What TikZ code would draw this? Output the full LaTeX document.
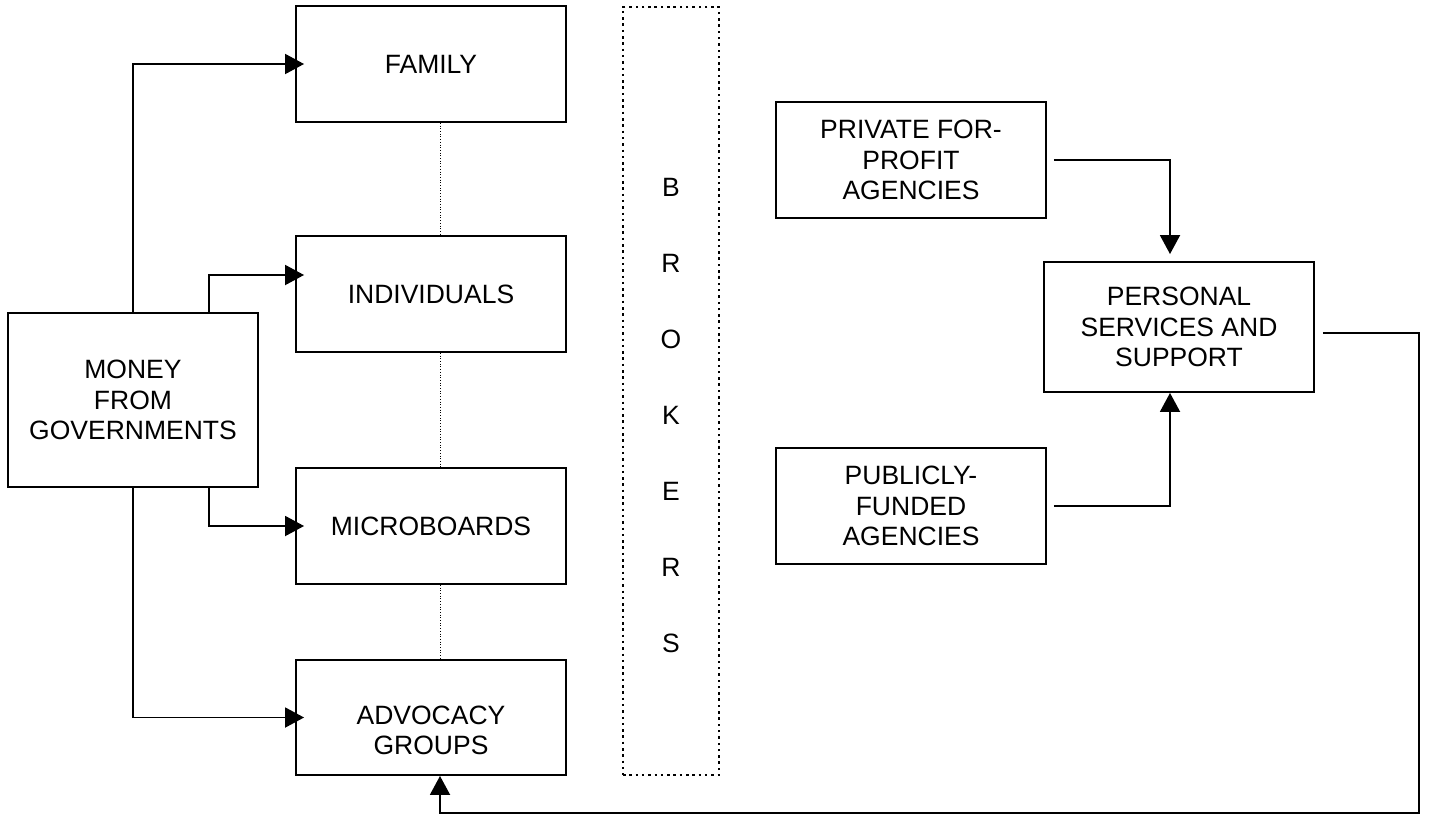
\documentclass[tikz,border=0pt]{standalone}
\usepackage{fontspec}
\setmainfont{Liberation Sans}
\usetikzlibrary{arrows.meta,calc}
\begin{document}
\begin{tikzpicture}[x=1pt,y=-1pt,
  box/.style={draw, line width=1.9pt, align=center, inner sep=0pt,
    font=\fontsize{26.5}{30.5}\selectfont},
  boxtext/.style={align=center, inner sep=0pt, font=\fontsize{26.5}{30.5}\selectfont},
  arr/.style={line width=1.9pt, -{Triangle[length=19pt,width=20pt]}},
  thindot/.style={line width=1pt, dash pattern=on 1pt off 1.7pt},
  brokbox/.style={draw, line width=2.5pt, dash pattern=on 2.5pt off 3.8pt, inner sep=0pt}]
\useasboundingbox (0,0) rectangle (1429,814);
\fill[white] (0,0) rectangle (1429,814);
% left column
\node[box, minimum width=270pt, minimum height=116pt] (fam) at (431,64) {FAMILY};
\node[box, minimum width=270pt, minimum height=116pt] (ind) at (431,294) {INDIVIDUALS};
\node[box, minimum width=270pt, minimum height=116pt] (mic) at (431,526) {MICROBOARDS};
\node[box, minimum width=270pt, minimum height=115pt] (adv) at (431,717.5) {};
\node[boxtext] (advtxt) at ([yshift=-13pt]adv.center) {ADVOCACY\\GROUPS};
\node[box, minimum width=250pt, minimum height=174pt] (money) at (133,400) {MONEY\\FROM\\GOVERNMENTS};
% brokers
\node[brokbox, minimum width=96pt, minimum height=768pt] (brok) at (671,391) {};
\node[align=center, inner sep=0pt, font=\fontsize{26.5}{76}\selectfont] (broktxt) at (671,416) {B\\R\\O\\K\\E\\R\\S};
% right side
\node[box, minimum width=270pt, minimum height=116pt] (priv) at (911,160) {PRIVATE FOR-\\PROFIT\\AGENCIES};
\node[box, minimum width=270pt, minimum height=116pt] (pub) at (911,506) {PUBLICLY-\\FUNDED\\AGENCIES};
\node[box, minimum width=270pt, minimum height=130pt] (pers) at (1179,327) {PERSONAL\\SERVICES AND\\SUPPORT};
% connectors from money
\draw[arr, shorten >=-9pt] (money.north) |- (fam.west);
\draw[arr, shorten >=-9pt] ($(money.north)+(76,0)$) |- ([yshift=19pt]ind.west);
\draw[arr, shorten >=-9pt] ($(money.south)+(76,0)$) |- (mic.west);
\draw[arr, shorten >=-9pt] (money.south) |- (adv.west);
% dotted links
\draw[thindot] ([xshift=9pt]fam.south) -- ([xshift=9pt]ind.north);
\draw[thindot] ([xshift=9pt]ind.south) -- ([xshift=9pt]mic.north);
\draw[thindot] ([xshift=9pt]mic.south) -- ([xshift=9pt]adv.north);
% agencies to personal services
\draw[arr, shorten >=7pt] ([xshift=7pt]priv.east) -| ([xshift=-9pt]pers.north);
\draw[arr] ([xshift=7pt]pub.east) -| ([xshift=-9pt]pers.south);
% feedback loop
\coordinate (corner) at (1419,813);
\draw[arr] ([xshift=8pt,yshift=-6pt]pers.east) -| (corner) -| ([xshift=9pt]adv.south);
\end{tikzpicture}
\end{document}
